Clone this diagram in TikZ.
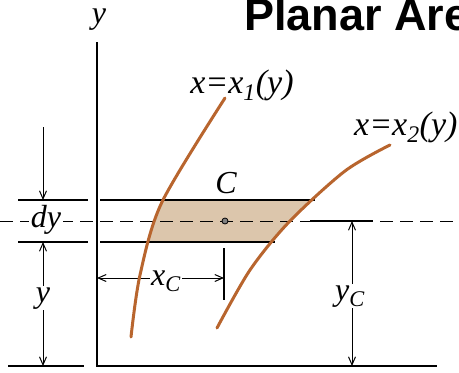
\documentclass[tikz,border=0pt]{standalone}
\usepackage{fontspec}
\setmainfont{Liberation Serif}
\newfontfamily\headfont{Liberation Sans}
\usetikzlibrary{arrows.meta}
\definecolor{curvebrown}{HTML}{B8652E}
\definecolor{stripfill}{HTML}{DCC6AC}
\begin{document}
\begin{tikzpicture}[x=1pt, y=-1pt,
  lbl/.style={font=\fontsize{32}{36}\selectfont\itshape, inner sep=1pt},
  eqlbl/.style={font=\fontsize{34}{38}\selectfont\itshape, inner sep=1pt},
  axisline/.style={line width=1.8pt},
  refline/.style={line width=1.2pt},
  midline/.style={line width=1pt, dash pattern=on 13pt off 7pt},
  dimarr/.style={line width=1pt, -{Straight Barb[length=8pt, width=7pt]}},
  curve/.style={line width=3pt, curvebrown, line cap=round}]
  \useasboundingbox (0,0) rectangle (459,373);
  \begin{scope}
    \clip (0,200) rectangle (459,242);
    \fill[stripfill] plot[smooth] coordinates {(131,337) (140,275) (162,202) (225,98)}
      -- plot[smooth] coordinates {(390,145) (345,171) (289,222) (250,270) (217,328)} -- cycle;
  \end{scope}
  \node[font=\headfont\bfseries\fontsize{45}{50}\selectfont, anchor=base west, inner sep=0pt] (title) at (244,30) {Planar Area};
  \coordinate (origin) at (97,366);
  \coordinate (ytop) at (97,42);
  \coordinate (xend) at (437,366);
  \draw[axisline] (ytop) -- (origin) -- (xend);
  \draw[refline] (18,200) -- (88,200);  \draw[refline] (100,200) -- (315,200);
  \draw[refline] (18,242) -- (88,242);  \draw[refline] (100,242) -- (275,242);
  \draw[refline] (8,366) -- (84,366);   \draw[refline] (310,221) -- (373,221);
  \draw[midline] (0,221) -- (459,221);
  \node[lbl] (ylab) at (99,20) {y};
  \node[eqlbl, anchor=base] (xonelbl) at (242,93) {x=x\textsubscript{1}(y)};
  \node[eqlbl, anchor=base west] (xtwolbl) at (353,135) {x=x\textsubscript{2}(y)};
  \node[lbl] (clbl) at (226,183) {C};
  \node[lbl, fill=white, inner sep=2pt] (dylbl) at (46,220) {dy};
  \node[lbl, anchor=base] (ylbl) at (43,302) {y};
  \node[lbl] (xclbl) at (166,281) {x\textsubscript{C}};
  \node[lbl, anchor=base] (yclbl) at (350,300) {y\textsubscript{C}};
  \coordinate (dytop) at (43,127);
  \coordinate (stript) at (43,200);
  \coordinate (stripb) at (43,242);
  \coordinate (ybase) at (43,366);
  \coordinate (xcaxis) at (97,278);
  \coordinate (xctick) at (224,278);
  \coordinate (ticktop) at (224,248);
  \coordinate (tickbot) at (224,300);
  \coordinate (ycmid) at (352,221);
  \coordinate (ycbase) at (352,366);
  \draw[dimarr] (dytop) -- (stript);
  \draw[dimarr] (ylbl.north -| stripb) -- (stripb);
  \draw[dimarr] (ylbl.south -| ybase) -- (ybase);
  \draw[dimarr] (xclbl.west |- xcaxis) -- (xcaxis);
  \draw[dimarr] (xclbl.east |- xctick) -- (xctick);
  \draw[refline] (ticktop) -- (tickbot);
  \draw[dimarr] (yclbl.north -| ycmid) -- (ycmid);
  \draw[dimarr] (yclbl.south -| ycbase) -- (ycbase);
  \draw[curve] plot[smooth] coordinates {(131,337) (140,275) (162,202) (225,98)};
  \draw[curve] plot[smooth] coordinates {(217,328) (250,270) (289,222) (345,171) (390,145)};
  \node[circle, fill=gray, draw=black, line width=0.8pt, inner sep=0pt, minimum size=6pt] (cdot) at (225,221) {};
\end{tikzpicture}
\end{document}
